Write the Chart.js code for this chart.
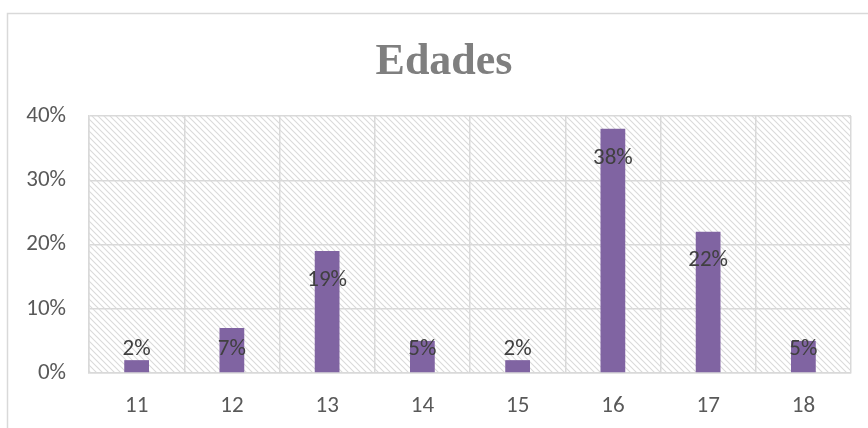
<!DOCTYPE html>
<html>
<head>
<meta charset="utf-8">
<script src="https://cdn.jsdelivr.net/npm/chart.js@4"></script>
<style>
  html, body { margin: 0; padding: 0; background: #fff; }
  #wrap { width: 868px; height: 428px; position: relative; }
</style>
</head>
<body>
<div id="wrap"><canvas id="chartEdades"></canvas></div>
<script>
const titulo = "Edades";
const edades = ["11", "12", "13", "14", "15", "16", "17", "18"];
const porcentagens = [2, 7, 19, 5, 2, 38, 22, 5];
const yTicks = [0, 10, 20, 30, 40];

const fonteTexto = "Calibri, Carlito, Lato, 'Open Sans', sans-serif";

// padrão de hachura do fundo da área de plotagem
function criaHachura() {
  const c = document.createElement("canvas");
  c.width = 6;
  c.height = 6;
  const ctx = c.getContext("2d");
  ctx.fillStyle = "#ffffff";
  ctx.fillRect(0, 0, 6, 6);
  ctx.strokeStyle = "#dadada";
  ctx.lineWidth = 1.1;
  ctx.beginPath();
  ctx.moveTo(-1, -1);
  ctx.lineTo(7, 7);
  ctx.moveTo(-1, 5);
  ctx.lineTo(1, 7);
  ctx.moveTo(5, -1);
  ctx.lineTo(7, 1);
  ctx.stroke();
  return c;
}

const fundoPlugin = {
  id: "fundo",
  beforeDraw(chart) {
    const ctx = chart.ctx;
    const a = chart.chartArea;
    ctx.save();
    // borda externa do gráfico
    ctx.strokeStyle = "#d9d9d9";
    ctx.lineWidth = 1.5;
    ctx.strokeRect(7.5, 13.5, 880, 440);
    // hachura
    ctx.fillStyle = ctx.createPattern(criaHachura(), "repeat");
    ctx.fillRect(a.left, a.top, a.right - a.left, a.bottom - a.top);
    // título
    ctx.fillStyle = "#7f7f7f";
    ctx.font = "bold 44px 'Liberation Serif', serif";
    ctx.textAlign = "center";
    ctx.textBaseline = "alphabetic";
    ctx.fillText(titulo, 444, 74);
    ctx.restore();
  },
};

// rótulos de dados "extremidade interna"
const rotulosPlugin = {
  id: "rotulos",
  afterDatasetsDraw(chart) {
    const ctx = chart.ctx;
    const meta = chart.getDatasetMeta(0);
    const base = chart.scales.y.getPixelForValue(0);
    ctx.save();
    ctx.fillStyle = "#404040";
    ctx.font = "23px " + fonteTexto;
    ctx.textAlign = "center";
    ctx.textBaseline = "middle";
    meta.data.forEach((bar, i) => {
      const y = Math.min(bar.y + 29, base - 24);
      ctx.fillText(porcentagens[i] + "%", bar.x, y);
    });
    ctx.restore();
  },
};

new Chart(document.getElementById("chartEdades"), {
  type: "bar",
  data: {
    labels: edades,
    datasets: [
      {
        data: porcentagens,
        backgroundColor: "#8064A2",
        borderWidth: 0,
        barPercentage: 0.26,
        categoryPercentage: 1,
      },
    ],
  },
  options: {
    responsive: true,
    maintainAspectRatio: false,
    animation: false,
    layout: { padding: { top: 116, right: 17, bottom: 0, left: 0 } },
    plugins: {
      legend: { display: false },
      tooltip: { enabled: false },
    },
    scales: {
      x: {
        afterFit(scale) { scale.height = 55; },
        grid: { offset: true, color: "#d9d9d9", lineWidth: 1.5, drawTicks: false },
        border: { color: "#d9d9d9", width: 1.5 },
        ticks: { color: "#595959", font: { family: fonteTexto, size: 23 }, padding: 19 },
      },
      y: {
        min: 0,
        max: 40,
        afterFit(scale) { scale.width = 89; },
        afterBuildTicks(scale) { scale.ticks = yTicks.map((v) => ({ value: v })); },
        grid: { color: "#d9d9d9", lineWidth: 1.5, drawTicks: false },
        border: { color: "#d9d9d9", width: 1.5 },
        ticks: {
          color: "#595959",
          font: { family: fonteTexto, size: 23 },
          padding: 23,
          callback: (v) => v + "%",
        },
      },
    },
  },
  plugins: [fundoPlugin, rotulosPlugin],
});
</script>
</body>
</html>
